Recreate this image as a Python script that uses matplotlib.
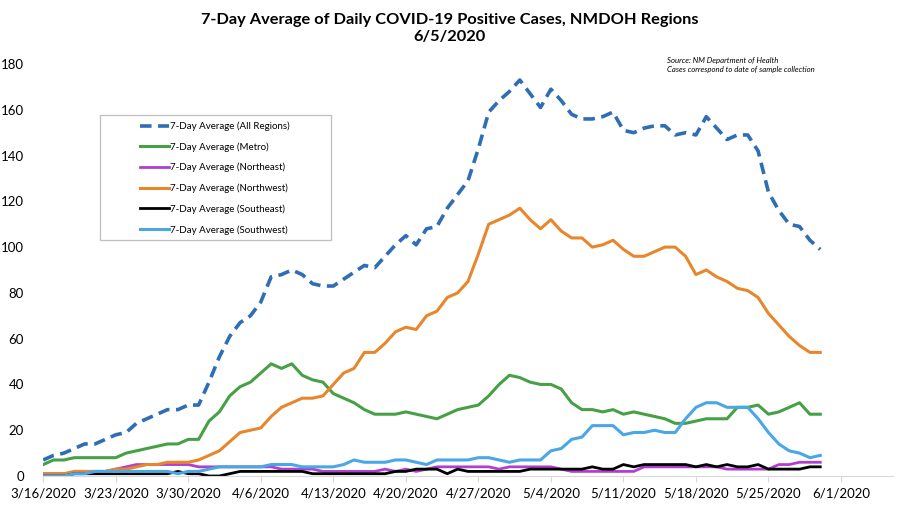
import matplotlib
matplotlib.use("Agg")
import matplotlib.pyplot as plt
from matplotlib.patches import Rectangle
import pandas as pd

dates = pd.date_range("2020-03-16", periods=76, freq="D")
tick_dates = pd.date_range("2020-03-16", "2020-06-01", freq="7D")

all_regions = [7, 9, 10, 12, 14, 14, 16, 18, 19, 23, 25, 27, 29, 29, 31, 31,
               41, 52, 61, 67, 70, 76, 87, 88, 90, 88, 84, 83, 83, 86, 89, 92,
               91, 96, 101, 105, 101, 108, 109, 117, 123, 129, 143, 159, 164, 168,
               173, 167, 161, 169, 164, 158, 156, 156, 157, 159, 151, 150, 152, 153,
               153, 149, 150, 149, 157, 152, 147, 149, 149, 142, 124, 116, 110, 109,
               103, 99]
metro = [5, 7, 7, 8, 8, 8, 8, 8, 10, 11, 12, 13, 14, 14, 16, 16, 24, 28, 35, 39,
         41, 45, 49, 47, 49, 44, 42, 41, 36, 34, 32, 29, 27, 27, 27, 28, 27, 26,
         25, 27, 29, 30, 31, 35, 40, 44, 43, 41, 40, 40, 38, 32, 29, 29, 28, 29,
         27, 28, 27, 26, 25, 23, 23, 24, 25, 25, 25, 30, 30, 31, 27, 28, 30, 32,
         27, 27]
northeast = [1, 1, 1, 1, 2, 2, 2, 3, 4, 5, 5, 5, 5, 5, 5, 4, 4, 4, 4, 4, 4, 4, 4,
             3, 3, 3, 3, 2, 2, 2, 2, 2, 2, 3, 2, 3, 2, 3, 4, 4, 4, 4, 4, 4, 3, 4,
             4, 4, 4, 4, 3, 2, 2, 2, 2, 2, 2, 2, 4, 4, 4, 4, 4, 4, 4, 4, 3, 3, 3,
             3, 3, 5, 5, 6, 6, 6]
northwest = [1, 1, 1, 2, 2, 2, 2, 3, 3, 4, 5, 5, 6, 6, 6, 7, 9, 11, 15, 19, 20,
             21, 26, 30, 32, 34, 34, 35, 40, 45, 47, 54, 54, 58, 63, 65, 64, 70,
             72, 78, 80, 85, 97, 110, 112, 114, 117, 112, 108, 112, 107, 104, 104,
             100, 101, 103, 99, 96, 96, 98, 100, 100, 96, 88, 90, 87, 85, 82, 81,
             78, 71, 66, 61, 57, 54, 54]
southeast = [0, 0, 0, 1, 1, 1, 1, 1, 1, 1, 1, 1, 1, 2, 1, 1, 0, 0, 1, 2, 2, 2, 2,
             2, 2, 2, 1, 1, 1, 1, 1, 1, 1, 1, 2, 2, 3, 3, 3, 1, 3, 2, 2, 2, 2, 2,
             2, 3, 3, 3, 3, 3, 3, 4, 3, 3, 5, 4, 5, 5, 5, 5, 5, 4, 5, 4, 5, 4, 4,
             5, 3, 3, 3, 3, 4, 4]
southwest = [0, 0, 0, 1, 1, 2, 2, 2, 2, 2, 2, 2, 2, 1, 2, 2, 3, 4, 4, 4, 4, 4, 5,
             5, 5, 4, 4, 4, 4, 5, 7, 6, 6, 6, 7, 7, 6, 5, 7, 7, 7, 7, 8, 8, 7, 6,
             7, 7, 7, 11, 12, 16, 17, 22, 22, 22, 18, 19, 19, 20, 19, 19, 25, 30,
             32, 32, 30, 30, 30, 25, 19, 14, 11, 10, 8, 9]

FONT = ["Lato", "DejaVu Sans"]
plt.rcParams["font.family"] = FONT

fig = plt.figure(figsize=(9, 5.08), dpi=100)
ax = fig.add_axes([0.048, 0.063, 0.944, 0.811])

ax.plot(dates, all_regions, color="#2f6db5", lw=2.6, dashes=(3.2, 1.8),
        label="7-Day Average (All Regions)", zorder=6)
ax.plot(dates, metro, color="#46a046", lw=2.2, label="7-Day Average (Metro)")
ax.plot(dates, northeast, color="#b03fcf", lw=2.0, label="7-Day Average (Northeast)")
ax.plot(dates, northwest, color="#e8862c", lw=2.2, label="7-Day Average (Northwest)")
ax.plot(dates, southeast, color="black", lw=2.0, label="7-Day Average (Southeast)")
ax.plot(dates, southwest, color="#4aa7e6", lw=2.2, label="7-Day Average (Southwest)")

ax.set_ylim(0, 180)
ax.set_yticks(range(0, 181, 20))
ax.set_xlim(pd.Timestamp("2020-03-16"), pd.Timestamp("2020-03-16") + pd.Timedelta(days=82))
ax.set_xticks(tick_dates)
ax.set_xticklabels([f"{d.month}/{d.day}/{d.year}" for d in tick_dates])
for s in ("top", "right", "left"):
    ax.spines[s].set_visible(False)
ax.spines["bottom"].set_color("#d9d9d9")
ax.tick_params(axis="y", length=0, labelsize=9.5, pad=14, colors="black")
ax.tick_params(axis="x", length=4, color="#d9d9d9", labelsize=9.5, pad=4)

fig.text(0.5, 0.975, "7-Day Average of Daily COVID-19 Positive Cases, NMDOH Regions\n6/5/2020",
         ha="center", va="top", fontsize=11.8, fontweight="bold", linespacing=1.3)
fig.text(0.741, 0.888, "Source: NM Department of Health\nCases correspond to date of sample collection",
         ha="left", va="top", fontsize=5.6, style="italic", linespacing=1.4)

leg = ax.legend(loc="upper left", bbox_to_anchor=(0.156, 0.761), bbox_transform=fig.transFigure,
                frameon=False, fontsize=7, handlelength=2.9, handletextpad=0.1,
                labelspacing=1.15, borderaxespad=0, borderpad=0)
fig.add_artist(Rectangle((100 / 900, 1 - 240 / 508), 231 / 900, 125 / 508,
                         transform=fig.transFigure, fill=False, edgecolor="#bfbfbf", lw=0.9))

fig.savefig("out.png", dpi=100)
